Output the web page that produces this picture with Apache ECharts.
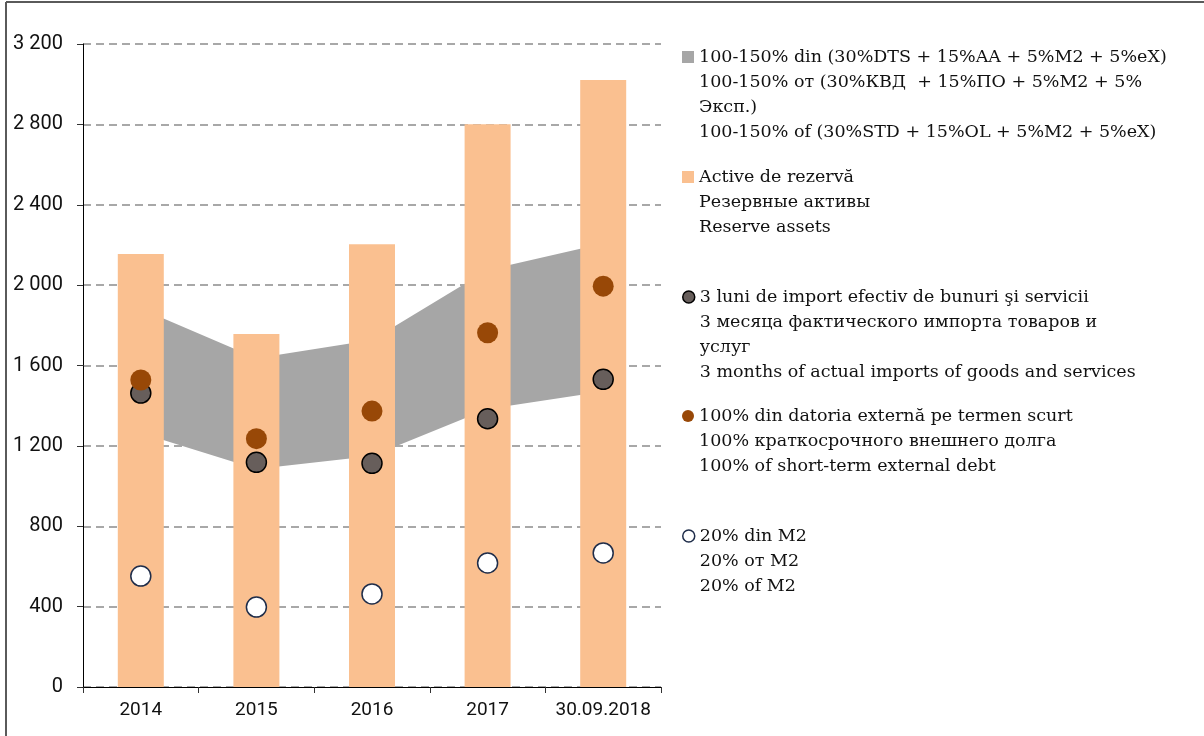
<!DOCTYPE html>
<html>
<head>
<meta charset="utf-8">
<script src="https://cdn.jsdelivr.net/npm/echarts@6/dist/echarts.min.js"></script>
<style>
  html, body { margin: 0; padding: 0; background: #fff; }
  #chart { width: 1204px; height: 736px; }
</style>
</head>
<body>
<div id="chart"></div>
<script>
// categories and values
var categories = ['2014', '2015', '2016', '2017', '30.09.2018'];
var reserveAssets = [2155, 1757, 2204, 2801, 3021];
var bandLower = [1264, 1085, 1149, 1383, 1471];
var bandUpper = [1883, 1636, 1727, 2075, 2207];
var importsThreeMonths = [1463, 1118, 1113, 1335, 1531];
var shortTermDebt = [1528, 1236, 1373, 1763, 1995];
var m2Share = [552, 398, 463, 617, 667];
var yTicks = [0, 400, 800, 1200, 1600, 2000, 2400, 2800, 3200];

var NAMES = {
    band: '100-150% din (30%DTS + 15%AA + 5%M2 + 5%eX)\n' +
          '100-150% от (30%КВД  + 15%ПО + 5%M2 + 5%\n' +
          'Эксп.)\n' +
          '100-150% of (30%STD + 15%OL + 5%M2 + 5%eX)',
    reserve: 'Active de rezervă\nРезервные активы\nReserve assets',
    imports: '3 luni de import efectiv de bunuri şi servicii\n' +
             '3 месяца фактического импорта товаров и\n' +
             'услуг\n' +
             '3 months of actual imports of goods and services',
    debt: '100% din datoria externă pe termen scurt\n' +
          '100% краткосрочного внешнего долга\n' +
          '100% of short-term external debt',
    m2: '20% din M2\n20% от M2\n20% of M2'
};

var COLORS = {
    band: '#A6A6A6',
    reserve: '#FAC090',
    imports: '#675E5B',
    debt: '#984807',
    m2: '#FFFFFF'
};

var LINE_H = 25;
var LEGEND_FONT = 'DejaVu Serif';
var AXIS_FONT = 'Roboto';

// one legend block per series; empty lines are put in front of the text so
// that the icon (centred on the block) sits beside the first real line
function legend_block(name, icon, itemStyle, centerY)
{
    var lines = name.split('\n').length;
    var item = {name: name, icon: icon};
    if (itemStyle) {
        item.itemStyle = itemStyle;
    }
    return {
        orient: 'vertical',
        left: 682,
        top: centerY - (2 * lines - 1) * LINE_H / 2,
        padding: 0,
        itemWidth: 12,
        itemHeight: 12,
        selectedMode: false,
        data: [item],
        formatter: function(n) {
            return new Array(lines).join('\n') + n;
        },
        textStyle: {
            fontFamily: LEGEND_FONT,
            fontSize: 17.5,
            color: '#111',
            lineHeight: LINE_H
        }
    };
}

var bandDiff = [];
for (var i = 0; i < bandUpper.length; i++) {
    bandDiff.push(bandUpper[i] - bandLower[i]);
}

var chart = echarts.init(document.getElementById('chart'));
var option = {
    animation: false,
    backgroundColor: '#fff',
    grid: {left: 83, right: 543, top: 44, bottom: 49, containLabel: false},
    legend: [
        legend_block(NAMES.band, 'rect', {color: COLORS.band}, 57),
        legend_block(NAMES.reserve, 'rect', {color: COLORS.reserve}, 177),
        legend_block(NAMES.imports, 'circle', {color: COLORS.imports, borderColor: '#000', borderWidth: 1.5}, 297),
        legend_block(NAMES.debt, 'circle', {color: COLORS.debt, borderWidth: 0}, 416),
        legend_block(NAMES.m2, 'circle', {color: COLORS.m2, borderColor: '#1F2D4A', borderWidth: 1.5}, 536)
    ],
    xAxis: {
        type: 'category',
        data: categories,
        boundaryGap: true,
        z: 10,
        axisLine: {lineStyle: {color: '#000', width: 1}},
        axisTick: {show: true, interval: 0, length: 6, lineStyle: {color: '#333'}},
        axisLabel: {
            interval: 0,
            fontFamily: AXIS_FONT,
            fontSize: 19,
            color: '#111',
            margin: 14
        },
        splitLine: {show: false}
    },
    yAxis: {
        type: 'value',
        min: yTicks[0],
        max: yTicks[yTicks.length - 1],
        interval: 400,
        axisLine: {show: true, lineStyle: {color: '#000', width: 1}},
        axisTick: {show: true, length: 6, lineStyle: {color: '#333'}},
        axisLabel: {
            fontFamily: AXIS_FONT,
            fontSize: 20,
            color: '#111',
            margin: 20,
            formatter: function(v) {
                return String(v).replace(/\B(?=(\d{3})+(?!\d))/g, ' ');
            }
        },
        splitLine: {
            show: true,
            lineStyle: {color: '#8C8C8C', type: [8, 5], width: 1.5}
        }
    },
    series: [
        {
            name: 'band_base',
            type: 'line',
            stack: 'band',
            data: bandLower,
            symbol: 'none',
            lineStyle: {width: 0, opacity: 0},
            z: 1,
            silent: true
        },
        {
            name: NAMES.band,
            type: 'line',
            stack: 'band',
            data: bandDiff,
            symbol: 'none',
            color: COLORS.band,
            lineStyle: {width: 0, opacity: 0},
            areaStyle: {color: COLORS.band, opacity: 1},
            z: 1
        },
        {
            name: NAMES.reserve,
            type: 'bar',
            data: reserveAssets,
            barWidth: 46,
            itemStyle: {color: COLORS.reserve},
            z: 3
        },
        {
            name: NAMES.imports,
            type: 'scatter',
            data: importsThreeMonths,
            symbol: 'circle',
            symbolSize: 20,
            itemStyle: {color: COLORS.imports, borderColor: '#000', borderWidth: 1.5, opacity: 1},
            z: 5
        },
        {
            name: NAMES.debt,
            type: 'scatter',
            data: shortTermDebt,
            symbol: 'circle',
            symbolSize: 21,
            itemStyle: {color: COLORS.debt, opacity: 1},
            z: 6
        },
        {
            name: NAMES.m2,
            type: 'scatter',
            data: m2Share,
            symbol: 'circle',
            symbolSize: 20,
            itemStyle: {color: COLORS.m2, borderColor: '#1F2D4A', borderWidth: 1.5, opacity: 1},
            z: 5
        }
    ],
    graphic: [
        {type: 'line', shape: {x1: 6, y1: 2, x2: 1204, y2: 2}, style: {stroke: '#5a5a5a', lineWidth: 2}},
        {type: 'line', shape: {x1: 6, y1: 2, x2: 6, y2: 736}, style: {stroke: '#5a5a5a', lineWidth: 2}}
    ]
};
chart.setOption(option);
</script>
</body>
</html>
